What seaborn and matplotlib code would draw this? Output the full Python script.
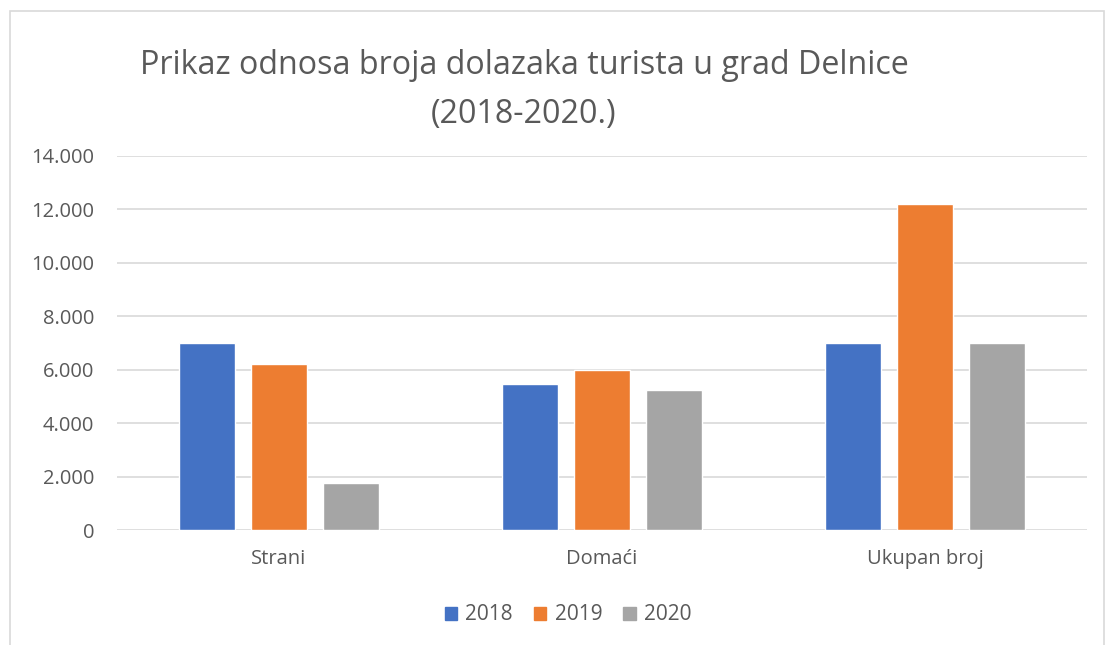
import matplotlib
matplotlib.use("Agg")
import matplotlib.pyplot as plt
import seaborn as sns
import pandas as pd
from matplotlib.patches import Rectangle
from matplotlib.ticker import FuncFormatter

categories = ["Strani", "Domaći", "Ukupan broj"]
years = ["2018", "2019", "2020"]
v2018 = [7010, 5460, 7000]
v2019 = [6220, 6000, 12200]
v2020 = [1750, 5240, 7000]
colors = ["#4472C4", "#ED7D31", "#A5A5A5"]
yticks = [0, 2000, 4000, 6000, 8000, 10000, 12000, 14000]

rows = []
for yr, vals in zip(years, [v2018, v2019, v2020]):
    for c, v in zip(categories, vals):
        rows.append({"cat": c, "year": yr, "val": v})
df = pd.DataFrame(rows)

sns.set_theme(style="white")
plt.rcParams["font.family"] = ["Open Sans", "DejaVu Sans"]

W, H = 1108, 645
fig = plt.figure(figsize=(W / 100, H / 100), dpi=100)
ax = fig.add_axes([117 / W, 1 - 530 / H, (1087 - 117) / W, (530 - 155.7) / H])

sns.barplot(data=df, x="cat", y="val", hue="year", order=categories,
            hue_order=years, palette=colors, width=0.667, gap=0.222,
            saturation=1, ax=ax, legend=False, zorder=3)

ax.set_ylim(0, 14000)
ax.set_xlim(-0.5, 2.5)
ax.set_yticks(yticks)
ax.yaxis.set_major_formatter(FuncFormatter(lambda v, p: f"{int(v):,}".replace(",", ".")))
ax.grid(axis="y", color="#D9D9D9", linewidth=1.2, zorder=0)
ax.set_axisbelow(True)
for s in ax.spines.values():
    s.set_visible(False)
ax.set_xlabel("")
ax.set_ylabel("")
ax.tick_params(axis="both", length=0, labelsize=14.5, colors="#595959")
ax.tick_params(axis="y", pad=16.5)
ax.tick_params(axis="x", pad=14)

# title
fig.text(524 / W, 1 - 66 / H, "Prikaz odnosa broja dolazaka turista u grad Delnice",
         ha="center", va="center", fontsize=23.2, color="#595959")
fig.text(524 / W, 1 - 114 / H, "(2018-2020.)",
         ha="center", va="center", fontsize=23.2, color="#595959")

# legend
handles = [Rectangle((0, 0), 1, 1, color=c) for c in colors]
fig.legend(handles, years, loc="center", bbox_to_anchor=(568 / W, 1 - 615 / H),
           ncol=3, frameon=False, fontsize=15, handlelength=0.6, handleheight=0.6,
           columnspacing=1.0, handletextpad=0.4, labelcolor="#595959")

# outer frame
fig.patches.append(Rectangle((10 / W, -0.02), (1104 - 10) / W, 1 - 11 / H + 0.02,
                             transform=fig.transFigure, fill=False,
                             edgecolor="#D9D9D9", linewidth=1.2))

fig.savefig("out.png", dpi=100)
